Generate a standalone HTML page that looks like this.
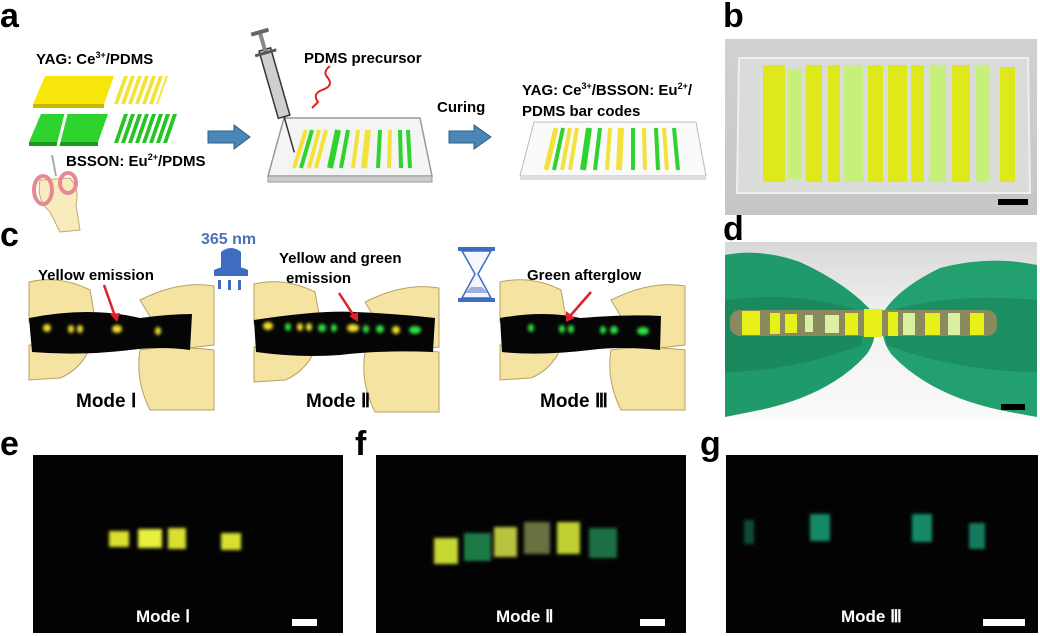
<!DOCTYPE html>
<html><head><meta charset="utf-8"><style>
html,body{margin:0;padding:0;background:#fff;}
svg{display:block;font-family:"Liberation Sans",Arial,sans-serif;}
.l{font-weight:bold;font-size:34px;fill:#000;}
.t{font-weight:bold;font-size:15px;fill:#000;}
</style></head><body>
<svg width="1040" height="636" viewBox="0 0 1040 636" xmlns="http://www.w3.org/2000/svg">
<defs>
<filter id="bl" x="-50%" y="-50%" width="200%" height="200%"><feGaussianBlur stdDeviation="1.5"/></filter>
<filter id="bl2" x="-50%" y="-50%" width="200%" height="200%"><feGaussianBlur stdDeviation="3"/></filter>
<linearGradient id="gb" x1="0" y1="0" x2="0" y2="1"><stop offset="0" stop-color="#cfd1d3"/><stop offset="1" stop-color="#c4c6c8"/></linearGradient>
<linearGradient id="dg" x1="0" y1="0" x2="0" y2="1"><stop offset="0" stop-color="#d8d8d8"/><stop offset="0.4" stop-color="#f0f0f0"/><stop offset="1" stop-color="#fafafa"/></linearGradient>
</defs>

<text class="l" x="0" y="27">a</text>
<text class="l" x="723" y="27">b</text>
<text class="l" x="0" y="246">c</text>
<text class="l" x="723" y="240">d</text>
<text class="l" x="0" y="455">e</text>
<text class="l" x="355" y="455">f</text>
<text class="l" x="700" y="455">g</text>

<!-- PANEL A -->
<text class="t" x="36" y="64">YAG: Ce<tspan font-size="9" dy="-6">3+</tspan><tspan dy="6">/PDMS</tspan></text>
<polygon points="45,76 114,76 104,104 33,104" fill="#f6e60a"/>
<polygon points="33,104 104,104 104,108 33,108" fill="#c9b800"/>
<g fill="#f2e23a">
<polygon points="124,76 128,76 118,104 114,104"/><polygon points="131,76 135,76 125,104 121,104"/>
<polygon points="138,76 142,76 132,104 128,104"/><polygon points="145,76 149,76 139,104 135,104"/>
<polygon points="152,76 156,76 146,104 142,104"/><polygon points="159,76 163,76 153,104 149,104"/>
<polygon points="166,76 168,76 158,104 156,104"/>
</g>
<polygon points="41,114 108,114 98,142 29,142" fill="#2ed32e"/>
<polygon points="29,142 98,142 98,146 29,146" fill="#1a9a1a"/>
<line x1="66" y1="114" x2="58" y2="146" stroke="#fff" stroke-width="3"/>
<g fill="#26c426">
<polygon points="124,114 128,114 118,143 114,143"/><polygon points="131,114 135,114 125,143 121,143"/>
<polygon points="138,114 142,114 132,143 128,143"/><polygon points="145,114 149,114 139,143 135,143"/>
<polygon points="152,114 156,114 146,143 142,143"/><polygon points="159,114 163,114 153,143 149,143"/>
<polygon points="166,114 170,114 160,143 156,143"/><polygon points="173,114 177,114 167,143 163,143"/>
</g>
<text class="t" x="66" y="166">BSSON: Eu<tspan font-size="9" dy="-6">2+</tspan><tspan dy="6">/PDMS</tspan></text>
<path d="M40,180 Q36,200 50,212 L60,232 L80,230 L76,205 Q80,190 70,178 Z" fill="#f8ebbe" stroke="#c9a86a" stroke-width="1"/>
<ellipse cx="43" cy="190" rx="9" ry="14" fill="none" stroke="#e58a95" stroke-width="4"/>
<ellipse cx="68" cy="183" rx="8" ry="10" fill="none" stroke="#e58a95" stroke-width="4"/>
<line x1="52" y1="155" x2="56" y2="176" stroke="#aaa" stroke-width="2"/>
<polygon points="208,131 234,131 234,125 250,137 234,149 234,143 208,143" fill="#4a86b8" stroke="#2d5f86" stroke-width="1"/>
<polygon points="284,118 420,118 432,176 268,176" fill="#f4f4f4" stroke="#999" stroke-width="1.5"/>
<polygon points="268,176 432,176 432,182 268,182" fill="#ccc" stroke="#999" stroke-width="1"/>
<g stroke-width="4" stroke-linecap="butt">
<line x1="306" y1="130" x2="294" y2="168" stroke="#f2e23a"/><line x1="312" y1="130" x2="301" y2="168" stroke="#2ed32e"/>
<line x1="319" y1="130" x2="309" y2="168" stroke="#f2e23a"/><line x1="326" y1="130" x2="316" y2="168" stroke="#f2e23a"/>
<line x1="338" y1="130" x2="330" y2="168" stroke="#2ed32e" stroke-width="6"/><line x1="348" y1="130" x2="341" y2="168" stroke="#2ed32e"/>
<line x1="358" y1="130" x2="353" y2="168" stroke="#f2e23a"/><line x1="368" y1="130" x2="364" y2="168" stroke="#f2e23a" stroke-width="6"/>
<line x1="380" y1="130" x2="378" y2="168" stroke="#2ed32e"/><line x1="390" y1="130" x2="389" y2="168" stroke="#f2e23a"/>
<line x1="400" y1="130" x2="401" y2="168" stroke="#2ed32e"/><line x1="408" y1="130" x2="410" y2="168" stroke="#2ed32e"/>
</g>
<g transform="rotate(-16 275 85)">
<rect x="269" y="48" width="12" height="70" fill="#cfcfcf" stroke="#333" stroke-width="1.5"/>
<rect x="273" y="30" width="4" height="22" fill="#888"/>
<rect x="266" y="28" width="18" height="4" fill="#666"/>
<rect x="264" y="50" width="22" height="3" fill="#555"/>
<line x1="275" y1="118" x2="275" y2="155" stroke="#333" stroke-width="1.5"/>
</g>
<path d="M330,66 Q322,72 328,78 Q334,86 322,90 Q312,94 318,102 L312,108" fill="none" stroke="#e0202a" stroke-width="2"/>
<text class="t" x="304" y="63">PDMS precursor</text>
<text class="t" x="437" y="112">Curing</text>
<polygon points="449,131 474,131 474,125 491,137 474,149 474,143 449,143" fill="#4a86b8" stroke="#2d5f86" stroke-width="1"/>
<text class="t" x="522" y="95">YAG: Ce<tspan font-size="9" dy="-6">3+</tspan><tspan dy="6">/BSSON: Eu</tspan><tspan font-size="9" dy="-6">2+</tspan><tspan dy="6">/</tspan></text>
<text class="t" x="522" y="116">PDMS bar codes</text>
<polygon points="534,122 696,122 706,176 520,176" fill="#fafafa" stroke="#bbb" stroke-width="1"/>
<polygon points="520,176 706,176 706,180 520,180" fill="#ddd"/>
<g stroke-width="4">
<line x1="556" y1="128" x2="546" y2="170" stroke="#f2e23a" stroke-width="5"/><line x1="563" y1="128" x2="554" y2="170" stroke="#2ed32e"/>
<line x1="570" y1="128" x2="562" y2="170" stroke="#f2e23a"/><line x1="577" y1="128" x2="570" y2="170" stroke="#f2e23a"/>
<line x1="589" y1="128" x2="583" y2="170" stroke="#2ed32e" stroke-width="6"/><line x1="600" y1="128" x2="595" y2="170" stroke="#2ed32e"/>
<line x1="610" y1="128" x2="607" y2="170" stroke="#f2e23a"/><line x1="621" y1="128" x2="619" y2="170" stroke="#f2e23a" stroke-width="6"/>
<line x1="633" y1="128" x2="633" y2="170" stroke="#2ed32e"/><line x1="644" y1="128" x2="645" y2="170" stroke="#f2e23a"/>
<line x1="656" y1="128" x2="658" y2="170" stroke="#2ed32e"/><line x1="664" y1="128" x2="667" y2="170" stroke="#f2e23a"/>
<line x1="674" y1="128" x2="678" y2="170" stroke="#2ed32e"/>
</g>

<!-- PANEL B -->
<rect x="725" y="39" width="312" height="176" fill="url(#gb)"/>
<polygon points="739,58 1028,58 1030,193 737,193" fill="#d9dcd8" stroke="#eef0ec" stroke-width="2"/>
<g>
<rect x="763" y="65" width="22" height="117" fill="#dfe81a"/>
<rect x="788" y="69" width="13" height="110" fill="#c7f07a"/>
<rect x="806" y="65" width="16" height="117" fill="#dfe81a"/>
<rect x="828" y="65" width="12" height="117" fill="#dfe81a"/>
<rect x="844" y="65" width="19" height="117" fill="#c7f07a"/>
<rect x="868" y="65" width="15" height="117" fill="#dfe81a"/>
<rect x="888" y="65" width="19" height="117" fill="#dfe81a"/>
<rect x="911" y="65" width="13" height="117" fill="#dfe81a"/>
<rect x="929" y="65" width="17" height="117" fill="#c7f07a"/>
<rect x="952" y="65" width="18" height="117" fill="#dfe81a"/>
<rect x="976" y="65" width="13" height="117" fill="#c7f07a"/>
<rect x="1000" y="67" width="15" height="115" fill="#dfe81a"/>
</g>
<rect x="998" y="199" width="30" height="6" fill="#000"/>

<!-- PANEL D -->
<rect x="725" y="242" width="312" height="175" fill="url(#dg)"/>
<path d="M725,255 Q760,248 800,262 Q850,285 875,315 Q878,340 866,355 Q830,395 760,410 Q740,414 725,417 Z" fill="#1f9a6a"/>
<path d="M1037,265 Q990,255 940,268 Q895,290 882,315 Q880,340 892,355 Q930,395 1000,410 Q1020,414 1037,417 Z" fill="#22a070"/>
<path d="M725,300 Q800,290 862,312 L862,345 Q790,372 725,372 Z" fill="#1a8a5e"/>
<path d="M1037,300 Q950,292 886,312 L886,345 Q960,372 1037,372 Z" fill="#1c8f62"/>
<rect x="730" y="310" width="267" height="26" rx="10" fill="#8a8a5e"/>
<g fill="#e8f01a">
<rect x="742" y="311" width="18" height="24"/><rect x="770" y="313" width="10" height="21"/>
<rect x="785" y="314" width="12" height="19"/><rect x="805" y="315" width="8" height="17" fill="#d8f0a0"/>
<rect x="825" y="315" width="14" height="18" fill="#d8f0a0"/><rect x="845" y="313" width="13" height="22"/>
<rect x="864" y="309" width="18" height="28"/><rect x="888" y="312" width="10" height="24"/>
<rect x="903" y="313" width="12" height="22" fill="#d8f0a0"/><rect x="925" y="313" width="15" height="22"/>
<rect x="948" y="313" width="12" height="22" fill="#d8f0a0"/><rect x="970" y="313" width="14" height="22"/>
</g>
<rect x="1001" y="404" width="24" height="6" fill="#000"/>

<!-- PANEL C -->
<text x="201" y="244" font-weight="bold" font-size="16" fill="#4a72b8">365 nm</text>
<g fill="#3d6cc0">
<path d="M221,252 Q231,244 241,252 L241,268 L221,268 Z"/>
<path d="M214,270 Q231,262 248,270 L248,276 L214,276 Z"/>
<rect x="218" y="280" width="3" height="9"/><rect x="228" y="280" width="3" height="10"/><rect x="238" y="280" width="3" height="10"/>
</g>
<g fill="#3d6cc0"><rect x="458" y="247" width="37" height="4"/><rect x="458" y="298" width="37" height="4"/></g>
<path d="M462,251 L491,251 L478,274 L491,298 L462,298 L475,274 Z" fill="#f4f6fb" stroke="#3d6cc0" stroke-width="1.5"/>
<path d="M465,293 L488,293 L482,287 L471,287 Z" fill="#9bb0dd"/>

<g id="hp">
<path d="M29,282 Q60,275 90,290 L95,318 L29,322 Z" fill="#f5e3a2" stroke="#b8a062" stroke-width="1"/>
<path d="M140,300 Q180,280 214,286 L214,345 L170,350 Z" fill="#f5e3a2" stroke="#b8a062" stroke-width="1"/>
<path d="M29,345 L90,348 Q80,370 60,378 L29,380 Z" fill="#f5e3a2" stroke="#b8a062" stroke-width="1"/>
<path d="M140,350 Q170,345 214,350 L214,410 L150,410 Q135,380 140,350 Z" fill="#f5e3a2" stroke="#b8a062" stroke-width="1"/>
</g>
<use href="#hp" transform="translate(225,2)"/>
<use href="#hp" transform="translate(471,0)"/>
<path d="M29,318 Q90,306 140,318 Q170,314 192,314 L190,350 Q160,346 130,350 Q80,356 32,352 Z" fill="#050505"/>
<path d="M254,320 Q320,310 355,312 Q400,314 435,318 L433,352 Q380,350 340,355 Q300,358 256,352 Z" fill="#050505"/>
<path d="M500,318 Q545,310 580,318 Q630,314 661,316 L660,350 Q620,346 590,350 Q540,356 502,352 Z" fill="#050505"/>
<g filter="url(#bl)">
<ellipse cx="47" cy="328" rx="4" ry="4" fill="#f0e030"/><ellipse cx="71" cy="329" rx="3" ry="4" fill="#f0e030"/>
<ellipse cx="80" cy="329" rx="3" ry="4" fill="#f0e030"/><ellipse cx="117" cy="329" rx="5" ry="4" fill="#f0e030"/>
<ellipse cx="158" cy="331" rx="3" ry="4" fill="#f0e030"/>
<ellipse cx="268" cy="326" rx="5" ry="4" fill="#f0e030"/><ellipse cx="288" cy="327" rx="3" ry="4" fill="#30e040"/>
<ellipse cx="300" cy="327" rx="3" ry="4" fill="#f0e030"/><ellipse cx="309" cy="327" rx="3" ry="4" fill="#f0e030"/>
<ellipse cx="322" cy="328" rx="4" ry="4" fill="#30e040"/><ellipse cx="334" cy="328" rx="3" ry="4" fill="#30e040"/>
<ellipse cx="353" cy="328" rx="6" ry="4" fill="#f0e030"/><ellipse cx="366" cy="329" rx="3" ry="4" fill="#30e040"/>
<ellipse cx="380" cy="329" rx="4" ry="4" fill="#30e040"/><ellipse cx="396" cy="330" rx="4" ry="4" fill="#f0e030"/>
<ellipse cx="415" cy="330" rx="6" ry="4" fill="#30e040"/>
<ellipse cx="531" cy="328" rx="3" ry="4" fill="#30e040"/><ellipse cx="562" cy="329" rx="3" ry="4" fill="#30e040"/>
<ellipse cx="571" cy="329" rx="3" ry="4" fill="#30e040"/><ellipse cx="603" cy="330" rx="3" ry="4" fill="#30e040"/>
<ellipse cx="614" cy="330" rx="4" ry="4" fill="#30e040"/><ellipse cx="643" cy="331" rx="6" ry="4" fill="#30e040"/>
</g>
<g stroke="#e0202a" stroke-width="2.5" fill="#e0202a">
<line x1="104" y1="285" x2="115" y2="316"/><polygon points="110,314 120,313 117,322" stroke="none"/>
<line x1="339" y1="293" x2="354" y2="316"/><polygon points="349,316 358,312 358,322" stroke="none"/>
<line x1="591" y1="292" x2="570" y2="316"/><polygon points="566,311 575,318 566,322" stroke="none"/>
</g>
<text class="t" x="38" y="280">Yellow emission</text>
<text class="t" x="279" y="263">Yellow and green</text>
<text class="t" x="286" y="283">emission</text>
<text class="t" x="527" y="280">Green afterglow</text>
<text x="76" y="407" font-weight="bold" font-size="19">Mode Ⅰ</text>
<text x="306" y="407" font-weight="bold" font-size="19">Mode Ⅱ</text>
<text x="540" y="407" font-weight="bold" font-size="19">Mode Ⅲ</text>

<!-- PANEL E -->
<rect x="33" y="455" width="310" height="178" fill="#030303"/>
<g filter="url(#bl)">
<rect x="109" y="531" width="20" height="16" fill="#d8e030"/><rect x="138" y="529" width="24" height="19" fill="#e8f040"/>
<rect x="168" y="528" width="18" height="21" fill="#d8e030"/><rect x="221" y="533" width="20" height="17" fill="#d8e030"/>
</g>
<text x="136" y="622" font-weight="bold" font-size="17" fill="#fff">Mode Ⅰ</text>
<rect x="292" y="619" width="25" height="7" fill="#fff"/>

<!-- PANEL F -->
<rect x="376" y="455" width="310" height="178" fill="#030303"/>
<g filter="url(#bl)">
<rect x="434" y="538" width="24" height="26" fill="#c8d830"/><rect x="464" y="533" width="27" height="28" fill="#1f7a45"/>
<rect x="494" y="527" width="23" height="30" fill="#b8c440"/><rect x="524" y="522" width="26" height="32" fill="#6a7040"/>
<rect x="557" y="522" width="23" height="32" fill="#c0d030"/><rect x="589" y="528" width="28" height="30" fill="#1a7045"/>
</g>
<text x="496" y="622" font-weight="bold" font-size="17" fill="#fff">Mode Ⅱ</text>
<rect x="640" y="619" width="25" height="7" fill="#fff"/>

<!-- PANEL G -->
<rect x="726" y="455" width="312" height="178" fill="#030303"/>
<g filter="url(#bl)">
<rect x="744" y="520" width="10" height="24" fill="#0e4a38"/><rect x="810" y="514" width="20" height="27" fill="#178a68"/>
<rect x="912" y="514" width="20" height="28" fill="#178a68"/><rect x="969" y="523" width="16" height="26" fill="#157a5e"/>
</g>
<text x="841" y="622" font-weight="bold" font-size="17" fill="#fff">Mode Ⅲ</text>
<rect x="983" y="619" width="42" height="7" fill="#fff"/>
</svg>
</body></html>
